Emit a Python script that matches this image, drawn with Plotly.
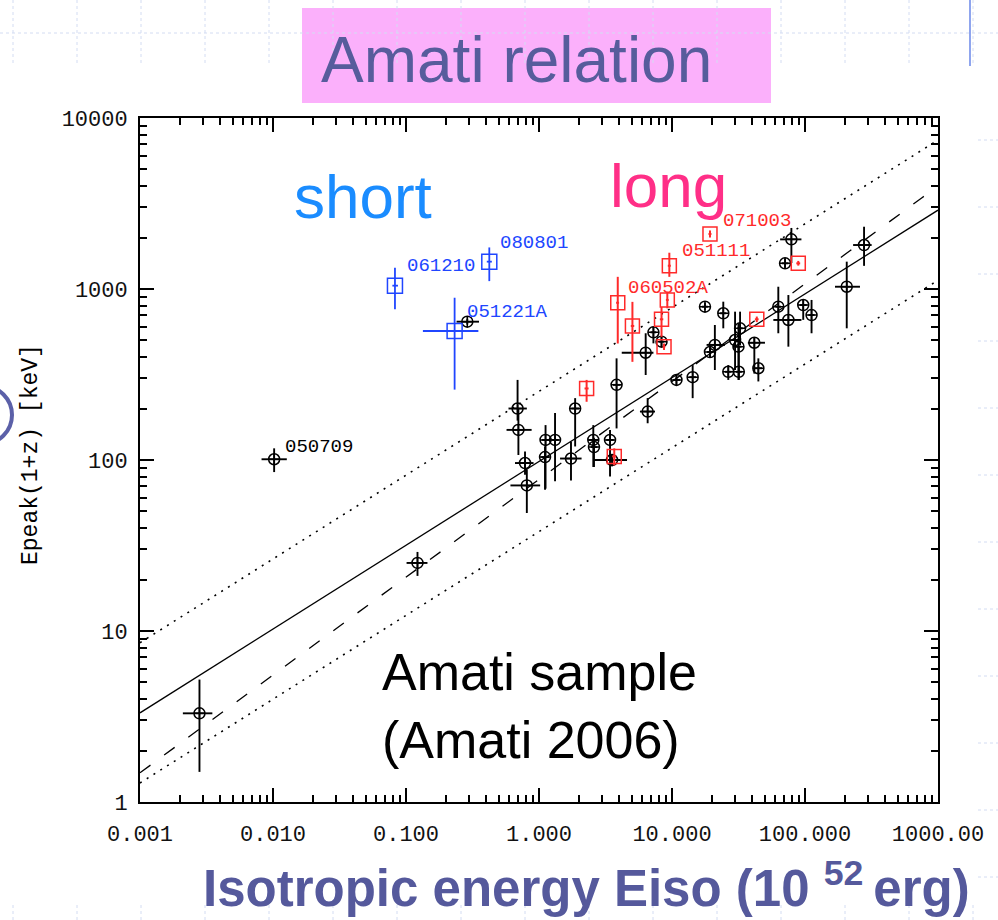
import numpy as np
import plotly.graph_objects as go

# ---------------- data ----------------
# Amati sample, long GRBs (black): Eiso [1e52 erg], Epeak,i [keV] with error ranges
blk_eiso    = [0.0028, 0.0102, 0.122, 0.289, 0.69, 0.70, 0.785, 0.81, 1.12, 1.32, 1.11,
               1.87, 1.74, 2.56, 2.59, 3.42, 3.54, 3.83, 6.56, 6.34, 7.25, 8.34, 10.8,
               14.3, 17.7, 24.3, 21.0, 19.3, 29.8, 31.6, 32.5, 41.6, 26.5, 31.8, 44.6,
               63, 75, 97, 112, 206, 79, 70.8, 278]
blk_ep      = [3.3, 101, 25, 644, 200, 150, 96, 71, 131, 131, 104,
               200, 102, 131, 119, 131, 100, 275, 192, 424, 558, 492, 294,
               305, 788, 721, 471, 428, 503, 460, 589, 485, 328, 328, 344,
               788, 659, 806, 704, 1031, 1951, 1413, 1808]
blk_eiso_lo = [0.0021, 0.0082, 0.101, 0.240, 0.59, 0.57, 0.66, 0.61, 1.05, 1.24, 1.04,
               1.75, 1.44, 2.35, 2.45, 3.2, 2.55, 3.6, 5.74, 4.19, 6.9, 8.0, 10.2,
               13.5, 16.8, 23, 18.2, 18.3, 28, 30, 31, 37.2, 25, 30.2, 42,
               60, 57.8, 91, 106, 168, 65, 67, 230]
blk_eiso_hi = [0.0035, 0.0127, 0.145, 0.354, 0.81, 0.88, 0.91, 1.02, 1.20, 1.41, 1.19,
               2.0, 2.09, 2.80, 2.75, 3.65, 4.59, 4.1, 7.45, 7.25, 7.6, 8.7, 11.5,
               15.2, 18.6, 25.6, 25.0, 20.3, 31.5, 33.3, 34, 50, 28, 33.5, 47.5,
               66, 94, 103, 118, 259, 94, 75, 317]
blk_ep_lo   = [1.5, 85, 21, 620, 170, 107, 82, 49, 68, 75, 67,
               120, 76, 91, 91, 80, 92, 153, 164, 314, 481, 460, 275,
               230, 750, 589, 336, 400, 336, 294, 469, 320, 294, 294, 288,
               551, 460, 660, 551, 589, 1419, 1330, 1366]
blk_ep_hi   = [5.2, 117, 29, 670, 294, 200, 112, 88, 160, 188, 120,
               230, 128, 160, 135, 150, 108, 393, 230, 551, 602, 525, 315,
               359, 830, 843, 616, 455, 737, 632, 737, 520, 359, 460, 393,
               1031, 922, 870, 863, 1445, 2275, 1500, 2313]

# Swift long GRBs (red)
red_eiso    = [2.28, 3.68, 3.91, 5.04, 8.34, 8.71, 9.22, 9.55, 19.3, 43.4, 89]
red_ep      = [262, 105, 831, 608, 665, 460, 863, 1368, 2098, 665, 1413]
red_eiso_lo = [2.2, 3.55, 3.8, 4.9, 8.1, 8.5, 9.0, 9.3, 18.8, 42, 86]
red_eiso_hi = [2.36, 3.8, 4.0, 5.2, 8.6, 8.9, 9.45, 9.8, 19.8, 44.8, 92]
red_ep_lo   = [219, 93, 480, 375, 525, 440, 771, 1178, 2000, 640, 1370]
red_ep_hi   = [294, 117, 1178, 841, 785, 480, 964, 1630, 2200, 690, 1460]

# short GRBs (blue)
blue_names   = ["061210", "080801", "051221A"]
blue_eiso    = [0.0826, 0.423, 0.232]
blue_ep      = [1046, 1445, 568]
blue_eiso_lo = [0.079, 0.405, 0.134]
blue_eiso_hi = [0.087, 0.442, 0.35]
blue_ep_lo   = [762, 1112, 258]
blue_ep_hi   = [1333, 1750, 889]

# named bursts: (group, index in group, name)
named_bursts = [("blk", 1, "050709"), ("red", 2, "060502A"), ("red", 7, "051111"),
                ("red", 8, "071003"), ("blue", 0, "061210"), ("blue", 1, "080801"),
                ("blue", 2, "051221A")]

# Ep,i = K * Eiso^m relations
fit_norm, fit_index, fit_scatter = 98.0, 0.49, 0.41   # best fit and +-dex band
alt_norm, alt_index = 77.0, 0.572                       # alternative fit (dashed)

x_ticks = [0.001, 0.01, 0.1, 1, 10, 100, 1000]
x_ticktext = ["0.001", "0.010", "0.100", "1.000", "10.000", "100.000", "1000.00"]
y_ticks = [1, 10, 100, 1000, 10000]
y_ticktext = ["1", "10", "100", "1000", "10000"]

# ---------------- figure ----------------
W, H = 998, 920
L, R, T, B = 140, 938, 118, 802   # plot-area pixel edges


def fx(px):
    return (px - L) / (R - L)


def fy(py):
    return (B - py) / (B - T)


def err(vals, lo, hi):
    v = np.asarray(vals, float)
    return dict(type="data", array=(np.asarray(hi) - v).tolist(),
                arrayminus=(v - np.asarray(lo)).tolist())


fig = go.Figure()

xx = np.logspace(-3, 3, 300)
fit = fit_norm * xx ** fit_index
line_specs = [
    (fit * 10 ** fit_scatter, dict(color="black", width=1.6, dash="2px,6px")),
    (fit * 10 ** -fit_scatter, dict(color="black", width=1.6, dash="2px,6px")),
    (alt_norm * xx ** alt_index, dict(color="black", width=1.3, dash="13px,17px")),
    (fit, dict(color="black", width=1.3)),
]
for yy, ln in line_specs:
    fig.add_trace(go.Scatter(x=xx, y=yy, mode="lines", line=ln, hoverinfo="skip",
                             showlegend=False))


def add_group(xs, ys, xlo, xhi, ylo, yhi, color, symbol, size, thick):
    ex = err(xs, xlo, xhi)
    ey = err(ys, ylo, yhi)
    ex.update(color=color, thickness=thick, width=0)
    ey.update(color=color, thickness=thick, width=0)
    fig.add_trace(go.Scatter(
        x=xs, y=ys, mode="markers",
        marker=dict(symbol=symbol, size=size, color=color, line=dict(color=color, width=1.5)),
        error_x=ex, error_y=ey, showlegend=False))


add_group(blk_eiso, blk_ep, blk_eiso_lo, blk_eiso_hi, blk_ep_lo, blk_ep_hi,
          "black", "circle-cross-open", 11, 1.9)
add_group(red_eiso, red_ep, red_eiso_lo, red_eiso_hi, red_ep_lo, red_ep_hi,
          "#ff2a2a", "square-open", 14, 2)
add_group(blue_eiso, blue_ep, blue_eiso_lo, blue_eiso_hi, blue_ep_lo, blue_ep_hi,
          "#2046ff", "square-open", 15, 1.8)

# burst-name labels
groups = {"blk": (blk_eiso, blk_ep, "black"),
          "red": (red_eiso, red_ep, "#ff2a2a"),
          "blue": (blue_eiso, blue_ep, "#2046ff")}
label_shift = {"050709": (9, 12), "060502A": (8, 15), "051111": (11, 15),
               "071003": (11, 13), "061210": (10, 20), "080801": (9, 19),
               "051221A": (10, 19)}
annotations = []
for grp, idx, name in named_bursts:
    xs, ys, col = groups[grp]
    dx, dy = label_shift[name]
    annotations.append(dict(x=np.log10(xs[idx]), y=np.log10(ys[idx]), xref="x", yref="y",
                            text=name, showarrow=False, xanchor="left", yanchor="middle",
                            xshift=dx, yshift=dy,
                            font=dict(family="Liberation Mono", size=19, color=col)))

# text blocks
annotations += [
    dict(x=fx(516), y=fy(60), xref="paper", yref="paper", text="Amati relation",
         showarrow=False, xanchor="center", yanchor="middle",
         font=dict(family="Liberation Sans", size=64, color="#575c9c")),
    dict(x=fx(363), y=fy(197), xref="paper", yref="paper", text="short",
         showarrow=False, xanchor="center", yanchor="middle",
         font=dict(family="Liberation Sans", size=62, color="#1a8cff")),
    dict(x=fx(668), y=fy(185), xref="paper", yref="paper", text="long",
         showarrow=False, xanchor="center", yanchor="middle",
         font=dict(family="Liberation Sans", size=62, color="#ff2f87")),
    dict(x=fx(380), y=fy(641), xref="paper", yref="paper",
         text="Amati sample<br>(Amati 2006)", showarrow=False, xanchor="left",
         yanchor="top", align="left",
         font=dict(family="Liberation Sans", size=52, color="black")),
    dict(x=fx(586), y=fy(885), xref="paper", yref="paper",
         text="<b>Isotropic energy Eiso (10 <sup>52 </sup>erg)</b>", showarrow=False,
         xanchor="center", yanchor="middle",
         font=dict(family="Liberation Sans", size=51, color="#55599c")),
    dict(x=fx(31), y=fy(455), xref="paper", yref="paper", text="Epeak(1+z) [keV]",
         textangle=-90, showarrow=False, xanchor="center", yanchor="middle",
         font=dict(family="Liberation Mono", size=23, color="black")),
]

# slide decorations
shapes = []
grid_col = "#d3dcf2"
for k in range(16):
    gx = 13 + 64 * k
    shapes.append(dict(type="line", xref="paper", yref="paper", x0=fx(gx), x1=fx(gx),
                       y0=fy(0), y1=fy(66), line=dict(color=grid_col, width=1, dash="3px,3px")))
    shapes.append(dict(type="line", xref="paper", yref="paper", x0=fx(gx), x1=fx(gx),
                       y0=fy(905), y1=fy(920), line=dict(color=grid_col, width=1, dash="3px,3px")))
shapes.append(dict(type="line", xref="paper", yref="paper", x0=fx(0), x1=fx(998),
                   y0=fy(33), y1=fy(33), line=dict(color=grid_col, width=1, dash="3px,3px")))
for k in range(12):
    gy = 140 + 67 * k
    shapes.append(dict(type="line", xref="paper", yref="paper", x0=fx(978), x1=fx(998),
                       y0=fy(gy), y1=fy(gy), line=dict(color=grid_col, width=1, dash="3px,3px")))
shapes += [
    dict(type="rect", xref="paper", yref="paper", x0=fx(302), x1=fx(771),
         y0=fy(103), y1=fy(8), fillcolor="#fbb0fb", line=dict(width=0), layer="below"),
    dict(type="line", xref="paper", yref="paper", x0=fx(970), x1=fx(970),
         y0=fy(0), y1=fy(66), line=dict(color="#8fa5ee", width=2)),
    dict(type="circle", xref="paper", yref="paper", x0=fx(-46), x1=fx(12),
         y0=fy(444), y1=fy(386), line=dict(color="#5b60a8", width=4)),
]

minor_x = [m * 10.0 ** d for d in range(-3, 3) for m in range(2, 10)]
minor_y = [m * 10.0 ** d for d in range(0, 4) for m in range(2, 10)]
tick_font = dict(family="Liberation Mono", size=22, color="#111111")

fig.update_layout(
    width=W, height=H,
    margin=dict(l=L, r=W - R, t=T, b=H - B, pad=0),
    paper_bgcolor="white", plot_bgcolor="white",
    showlegend=False,
    annotations=annotations,
    shapes=shapes,
    xaxis=dict(type="log", range=[-3, 3], tickmode="array", tickvals=x_ticks,
               ticktext=x_ticktext, ticks="inside", ticklen=14, tickwidth=1.5,
               tickcolor="black", showline=True, linecolor="black", linewidth=1.8,
               mirror="ticks", showgrid=False, zeroline=False, tickfont=tick_font,
               ticklabelstandoff=11,
               minor=dict(tickmode="array", tickvals=minor_x, ticks="inside", ticklen=7,
                          tickwidth=1.5, tickcolor="black", showgrid=False)),
    yaxis=dict(type="log", range=[0, 4], tickmode="array", tickvals=y_ticks,
               ticktext=y_ticktext, ticks="inside", ticklen=14, tickwidth=1.5,
               tickcolor="black", showline=True, linecolor="black", linewidth=1.8,
               mirror="ticks", showgrid=False, zeroline=False, tickfont=tick_font,
               ticklabelstandoff=6,
               minor=dict(tickmode="array", tickvals=minor_y, ticks="inside", ticklen=7,
                          tickwidth=1.5, tickcolor="black", showgrid=False)),
)

fig.write_html("out.html")
